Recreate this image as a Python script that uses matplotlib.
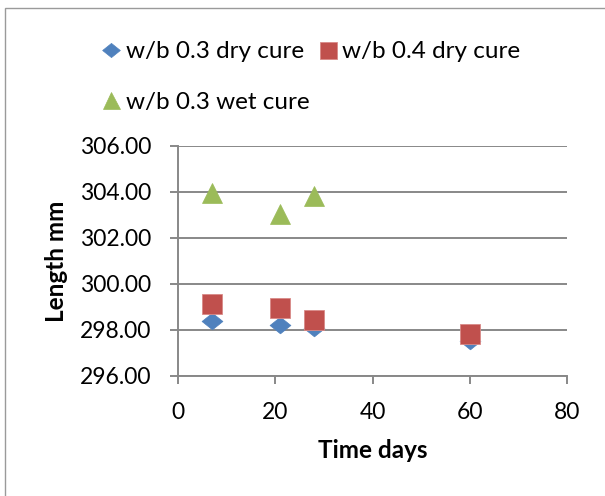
import matplotlib
matplotlib.use('Agg')
import matplotlib.pyplot as plt
from matplotlib.patches import Rectangle
from matplotlib.path import Path

# ---- data ----
days = [7, 21, 28, 60]
dry_03 = [298.37, 298.19, 298.05, 297.51]
dry_04 = [299.10, 298.92, 298.41, 297.80]
wet_days = [7, 21, 28]
wet_03 = [303.96, 303.02, 303.83]
series_labels = ['w/b 0.3 dry cure', 'w/b 0.4 dry cure', 'w/b 0.3 wet cure']
xticks = [0, 20, 40, 60, 80]
yticks = [296, 298, 300, 302, 304, 306]
xlabel = 'Time days'
ylabel = 'Length mm'

plt.rcParams['font.family'] = ['Lato', 'DejaVu Sans']

W, H = 605, 496
fig = plt.figure(figsize=(W / 100, H / 100), dpi=100)
fig.patch.set_facecolor('white')

# outer chart border
fig.patches.append(Rectangle((5 / W, -0.1), 1.2, (1 - 8 / H) + 0.1,
                             transform=fig.transFigure, fill=False,
                             ec='#9a9a9a', lw=1.0))

ax = fig.add_axes([178 / W, 1 - 375.5 / H, (567 - 178) / W, (375.5 - 146) / H])

blue, red, green = '#4F81BD', '#C0504D', '#9BBB59'
diamond = Path([(-1, 0), (0, -0.8), (1, 0), (0, 0.8), (-1, 0)],
               [Path.MOVETO, Path.LINETO, Path.LINETO, Path.LINETO, Path.CLOSEPOLY])

h1, = ax.plot(days, dry_03, linestyle='none', marker=diamond, ms=15,
              mfc=blue, mec=blue, mew=0.5, label=series_labels[0], clip_on=False)
h2, = ax.plot(days, dry_04, linestyle='none', marker='s', ms=14.4,
              mfc=red, mec='#d98a88', mew=0.6, label=series_labels[1], clip_on=False)
h3, = ax.plot(wet_days, wet_03, linestyle='none', marker='^', ms=14.4,
              mfc=green, mec=green, mew=0.5, label=series_labels[2], clip_on=False)

ax.set_xlim(0, 80)
ax.set_ylim(296, 306)
ax.set_xticks(xticks)
ax.set_yticks(yticks)
ax.set_yticklabels([f'{v:.2f}' for v in yticks])
ax.set_xticklabels([str(v) for v in xticks])

grid_c = '#888888'
ax.yaxis.grid(True, color=grid_c, lw=1.4)
ax.set_axisbelow(True)
for s in ['top', 'right']:
    ax.spines[s].set_visible(False)
for s in ['left', 'bottom']:
    ax.spines[s].set_color(grid_c)
    ax.spines[s].set_linewidth(1.4)
ax.tick_params(axis='both', direction='out', length=5.8, width=1.4, color=grid_c,
               labelsize=16.5, labelcolor='black')
ax.tick_params(axis='y', pad=13.5)
ax.tick_params(axis='x', pad=13.5)

fig.text(373 / W, 1 - 450 / H, xlabel, ha='center', va='center',
         fontsize=17.5, fontweight='bold')
fig.text(56 / W, 1 - 261 / H, ylabel, ha='center', va='center',
         rotation=90, fontsize=17.5, fontweight='bold')

leg = fig.legend(handles=[h1, h3, h2], labels=[series_labels[0], series_labels[2], series_labels[1]],
                 ncol=2, loc='upper left', bbox_to_anchor=(101.5 / W, 1 - 41 / H),
                 frameon=False, fontsize=17.5, borderpad=0, borderaxespad=0,
                 handlelength=0.8, handletextpad=0.2, columnspacing=0.35,
                 labelspacing=1.22, markerscale=0.85)

fig.savefig('out.png', dpi=100, facecolor='white')
